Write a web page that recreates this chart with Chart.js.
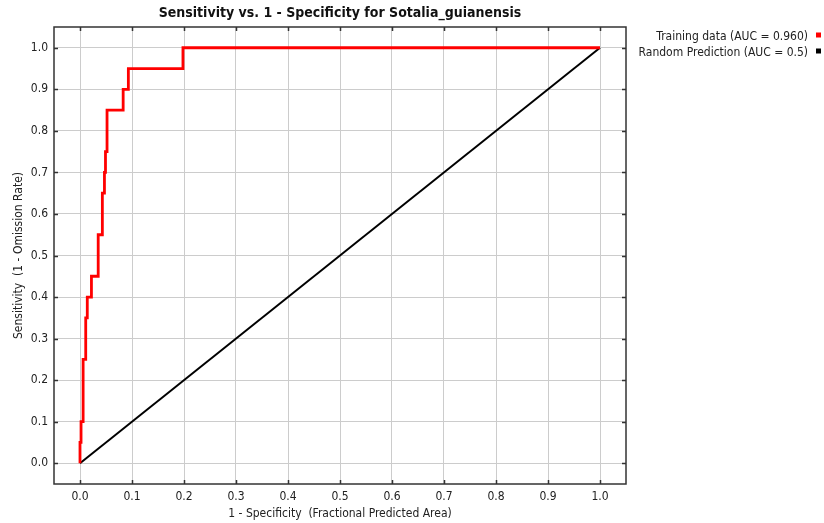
<!DOCTYPE html>
<html>
<head>
<meta charset="utf-8">
<script src="https://cdn.jsdelivr.net/npm/chart.js@4.4.0/dist/chart.umd.min.js"></script>
<style>
  html, body { margin: 0; padding: 0; background: #fff; }
  #wrap { width: 824px; height: 523px; }
</style>
</head>
<body>
<div id="wrap"><canvas id="rocChart" width="824" height="523"></canvas></div>
<script>
// данные ROC-кривой
const trainFpr = [0, 0, 0.002, 0.002, 0.006, 0.006, 0.011, 0.011, 0.014, 0.014, 0.022, 0.022,
    0.035, 0.035, 0.043, 0.043, 0.047, 0.047, 0.049, 0.049, 0.052, 0.052, 0.083, 0.083,
    0.093, 0.093, 0.198, 0.198, 1.0];
const trainTpr = [0, 0.05, 0.05, 0.10, 0.10, 0.25, 0.25, 0.35, 0.35, 0.40, 0.40, 0.45,
    0.45, 0.55, 0.55, 0.65, 0.65, 0.70, 0.70, 0.75, 0.75, 0.85, 0.85, 0.90,
    0.90, 0.95, 0.95, 1.0, 1.0];
const randomFpr = [0, 1];
const randomTpr = [0, 1];
const seriesLabels = ['Training data (AUC = 0.960)', 'Random Prediction (AUC = 0.5)'];
const seriesColors = ['#ff0000', '#000000'];
const tickValues = [0, 0.1, 0.2, 0.3, 0.4, 0.5, 0.6, 0.7, 0.8, 0.9, 1.0];

const FONT = "'Liberation Sans Narrow', 'DejaVu Sans Condensed', 'Liberation Sans', sans-serif";

function toPoints(xs, ys) {
    return xs.map((x, i) => ({ x: x, y: ys[i] }));
}

// рамка и внутренние засечки
const framePlugin = {
    id: 'frame',
    afterDraw(chart) {
        const { ctx, chartArea: a, scales } = chart;
        ctx.save();
        ctx.strokeStyle = '#333';
        ctx.lineWidth = 1.5;
        ctx.strokeRect(a.left, a.top, a.right - a.left, a.bottom - a.top);
        ctx.beginPath();
        scales.x.ticks.forEach(t => {
            const px = Math.round(scales.x.getPixelForValue(t.value)) + 0.5;
            ctx.moveTo(px, a.bottom); ctx.lineTo(px, a.bottom - 4);
            ctx.moveTo(px, a.top); ctx.lineTo(px, a.top + 4);
        });
        scales.y.ticks.forEach(t => {
            const py = Math.round(scales.y.getPixelForValue(t.value)) + 0.5;
            ctx.moveTo(a.left, py); ctx.lineTo(a.left + 4, py);
            ctx.moveTo(a.right, py); ctx.lineTo(a.right - 4, py);
        });
        ctx.stroke();

        // легенда справа: текст, потом квадратик
        ctx.font = '12px ' + FONT;
        ctx.textAlign = 'right';
        ctx.textBaseline = 'middle';
        chart.data.datasets.forEach((ds, i) => {
            const y = 36.5 + i * 16;
            ctx.fillStyle = '#222';
            ctx.fillText(ds.label, 808, y);
            ctx.fillStyle = ds.borderColor;
            ctx.fillRect(816, y - 4, 5, 5);
        });
        ctx.restore();
    }
};

function keepUnitTicks(scale) {
    scale.ticks = tickValues.map(v => ({ value: v }));
}

const ctx = document.getElementById('rocChart').getContext('2d');
const rocChart = new Chart(ctx, {
    type: 'scatter',
    data: {
        datasets: [{
            label: seriesLabels[0],
            data: toPoints(trainFpr, trainTpr),
            showLine: true,
            borderColor: seriesColors[0],
            backgroundColor: seriesColors[0],
            borderWidth: 2.8,
            pointRadius: 0,
            tension: 0
        }, {
            label: seriesLabels[1],
            data: toPoints(randomFpr, randomTpr),
            showLine: true,
            borderColor: seriesColors[1],
            backgroundColor: seriesColors[1],
            borderWidth: 2,
            pointRadius: 0,
            tension: 0
        }]
    },
    options: {
        responsive: false,
        animation: false,
        layout: { padding: { top: 0, right: 198, bottom: 0, left: 0 } },
        plugins: {
            legend: { display: false },
            tooltip: { enabled: false },
            title: {
                display: true,
                fullSize: false,
                text: 'Sensitivity vs. 1 - Specificity for Sotalia_guianensis',
                color: '#111',
                font: { family: FONT, size: 14, weight: 'bold' },
                padding: { top: 5, bottom: 5.2 }
            }
        },
        scales: {
            x: {
                type: 'linear',
                min: -0.05,
                max: 1.05,
                afterBuildTicks: keepUnitTicks,
                afterFit(scale) { scale.height = 39; },
                grid: { color: '#cccccc', lineWidth: 1, drawTicks: false },
                border: { display: false },
                ticks: {
                    padding: 6,
                    color: '#222',
                    font: { family: FONT, size: 12 },
                    maxRotation: 0,
                    callback: v => v.toFixed(1)
                },
                title: {
                    display: true,
                    text: '1 - Specificity  (Fractional Predicted Area)',
                    color: '#222',
                    font: { family: FONT, size: 12 },
                    padding: { top: 0, bottom: 2 }
                }
            },
            y: {
                type: 'linear',
                min: -0.05,
                max: 1.05,
                afterBuildTicks: keepUnitTicks,
                afterFit(scale) { scale.width = 54; },
                grid: { color: '#cccccc', lineWidth: 1, drawTicks: false },
                border: { display: false },
                ticks: {
                    padding: 6,
                    color: '#222',
                    font: { family: FONT, size: 12 },
                    callback: v => v.toFixed(1)
                },
                title: {
                    display: true,
                    text: 'Sensitivity  (1 - Omission Rate)',
                    color: '#222',
                    font: { family: FONT, size: 12 },
                    padding: { top: 12, bottom: 0 }
                }
            }
        }
    },
    plugins: [framePlugin]
});
</script>
</body>
</html>
